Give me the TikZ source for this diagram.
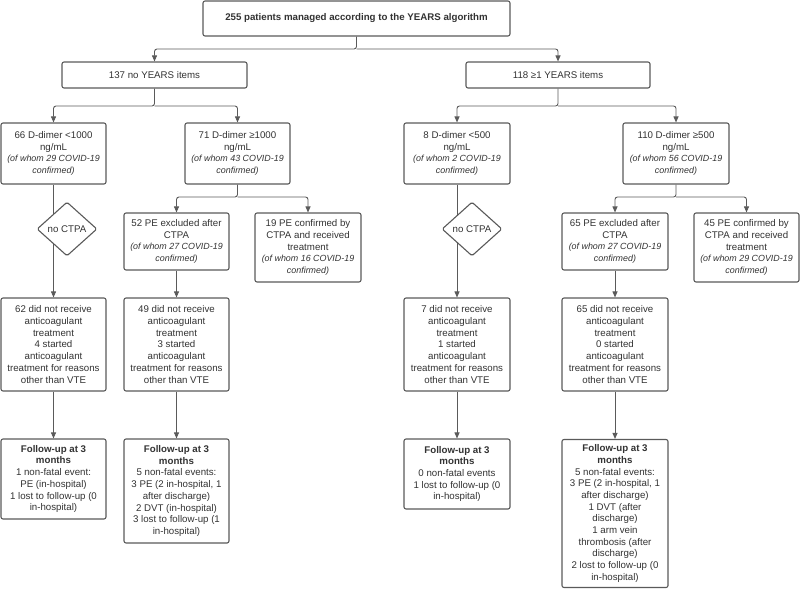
\documentclass[tikz,border=0pt]{standalone}
\usepackage{fontspec}
\setmainfont{Liberation Sans}
\usetikzlibrary{arrows.meta,shapes.geometric}
\definecolor{linec}{HTML}{5A5A5A}
\definecolor{textc}{HTML}{333333}
\newcommand{\wh}[1]{{\fontsize{8.9}{11.7}\selectfont\itshape #1}}
\begin{document}
\begin{tikzpicture}[x=1pt,y=-1pt,
  font=\fontsize{9.7}{11.7}\selectfont,
  box/.style={draw=linec, line width=1.1pt, rounded corners=2pt, fill=white,
    text=textc, align=center, inner sep=0pt, minimum width=#1},
  box/.default=105pt,
  dia/.style={draw=linec, line width=1.1pt, diamond, fill=white, text=textc,
    minimum width=60pt, minimum height=54pt, inner sep=0pt, rounded corners=1.5pt},
  arr/.style={draw=linec, line width=0.9pt, -{Triangle[width=5pt,length=6pt]}}]
\useasboundingbox (0,0) rectangle (800,589);
% level 0
\node[box=307pt, minimum height=35pt] (top) at (356.5,18.5) {\bfseries 255 patients managed according to the YEARS algorithm};
% level 1
\node[box=185pt, minimum height=26pt] (n137) at (154.5,75) {137 no YEARS items};
\node[box=184pt, minimum height=26pt] (n118) at (558,75) {118 ≥1 YEARS items};
% level 2
\node[box, minimum height=61pt] (n66) at (53.5,153.5) {66 D-dimer <1000\\ng/mL\\\wh{(of whom 29 COVID-19}\\\wh{confirmed)}};
\node[box, minimum height=61pt] (n71) at (237.5,153.5) {71 D-dimer ≥1000\\ng/mL\\\wh{(of whom 43 COVID-19}\\\wh{confirmed)}};
\node[box=106pt, minimum height=61pt] (n8) at (457,153.5) {8 D-dimer <500\\ng/mL\\\wh{(of whom 2 COVID-19}\\\wh{confirmed)}};
\node[box=106pt, minimum height=61pt] (n110) at (676,153.5) {110 D-dimer ≥500\\ng/mL\\\wh{(of whom 56 COVID-19}\\\wh{confirmed)}};
% level 3
\node[box, minimum height=57pt] (n52) at (176.5,241.5) {52 PE excluded after\\CTPA\\\wh{(of whom 27 COVID-19}\\\wh{confirmed)}};
\node[box=106pt, minimum height=69pt] (n19) at (308,247.5) {19 PE confirmed by\\CTPA and received\\treatment\\\wh{(of whom 16 COVID-19}\\\wh{confirmed)}};
\node[box=106pt, minimum height=57pt] (n65e) at (615,241.5) {65 PE excluded after\\CTPA\\\wh{(of whom 27 COVID-19}\\\wh{confirmed)}};
\node[box, minimum height=69pt] (n45) at (746.5,247.5) {45 PE confirmed by\\CTPA and received\\treatment\\\wh{(of whom 29 COVID-19}\\\wh{confirmed)}};
% level 4
\node[box, minimum height=93pt] (n62) at (53.5,344.5) {62 did not receive\\anticoagulant\\treatment\\4 started\\anticoagulant\\treatment for reasons\\other than VTE};
\node[box, minimum height=93pt] (n49) at (176.5,344.5) {49 did not receive\\anticoagulant\\treatment\\3 started\\anticoagulant\\treatment for reasons\\other than VTE};
\node[box=106pt, minimum height=93pt] (n7) at (457,344.5) {7 did not receive\\anticoagulant\\treatment\\1 started\\anticoagulant\\treatment for reasons\\other than VTE};
\node[box=106pt, minimum height=93pt] (n65d) at (615,344.5) {65 did not receive\\anticoagulant\\treatment\\0 started\\anticoagulant\\treatment for reasons\\other than VTE};
% level 5
\node[box, minimum height=80pt] (f1) at (53.5,479) {\bfseries Follow-up at 3\\\bfseries months\\1 non-fatal event:\\PE (in-hospital)\\1 lost to follow-up (0\\in-hospital)};
\node[box, minimum height=104pt] (f2) at (176.5,491) {\bfseries Follow-up at 3\\\bfseries months\\5 non-fatal events:\\3 PE (2 in-hospital, 1\\after discharge)\\2 DVT (in-hospital)\\3 lost to follow-up (1\\in-hospital)};
\node[box=106pt, minimum height=70pt] (f3) at (457,474) {\bfseries Follow-up at 3\\\bfseries months\\0 non-fatal events\\1 lost to follow-up (0\\in-hospital)};
\node[box=106pt, minimum height=148pt] (f4) at (615,513.5) {\bfseries Follow-up at 3\\\bfseries months\\5 non-fatal events:\\3 PE (2 in-hospital, 1\\after discharge)\\1 DVT (after\\discharge)\\1 arm vein\\thrombosis (after\\discharge)\\2 lost to follow-up (0\\in-hospital)};
% split junctions
\coordinate (j0) at (356.5,49);
\coordinate (j1) at (154.5,106);
\coordinate (j2) at (558,106);
\coordinate (j3) at (237.5,197);
\coordinate (j4) at (676,197);
\begin{scope}[rounded corners=2.5pt]
\draw[arr] (top.south) -- (j0) -| (n137.north);
\draw[arr] (j0) -| (n118.north);
\draw[arr] (n137.south) -- (j1) -| (n66.north);
\draw[arr] (j1) -| (n71.north);
\draw[arr] (n118.south) -- (j2) -| (n8.north);
\draw[arr] (j2) -| (n110.north);
\draw[arr] (n71.south) -- (j3) -| (n52.north);
\draw[arr] (j3) -| (n19.north);
\draw[arr] (n110.south) -- (j4) -| (n65e.north);
\draw[arr] (j4) -| (n45.north);
\end{scope}
\draw[arr] (n66.south) -- (n62.north);
\draw[arr] (n8.south) -- (n7.north);
\draw[arr] (n52.south) -- (n49.north);
\draw[arr] (n65e.south) -- (n65d.north);
\draw[arr] (n62.south) -- (f1.north);
\draw[arr] (n49.south) -- (f2.north);
\draw[arr] (n7.south) -- (f3.north);
\draw[arr] (n65d.south) -- (f4.north);
% diamonds over the lines
\node[dia] (d1) at (67,229) {no CTPA};
\node[dia] (d2) at (472,229) {no CTPA};
\end{tikzpicture}
\end{document}
